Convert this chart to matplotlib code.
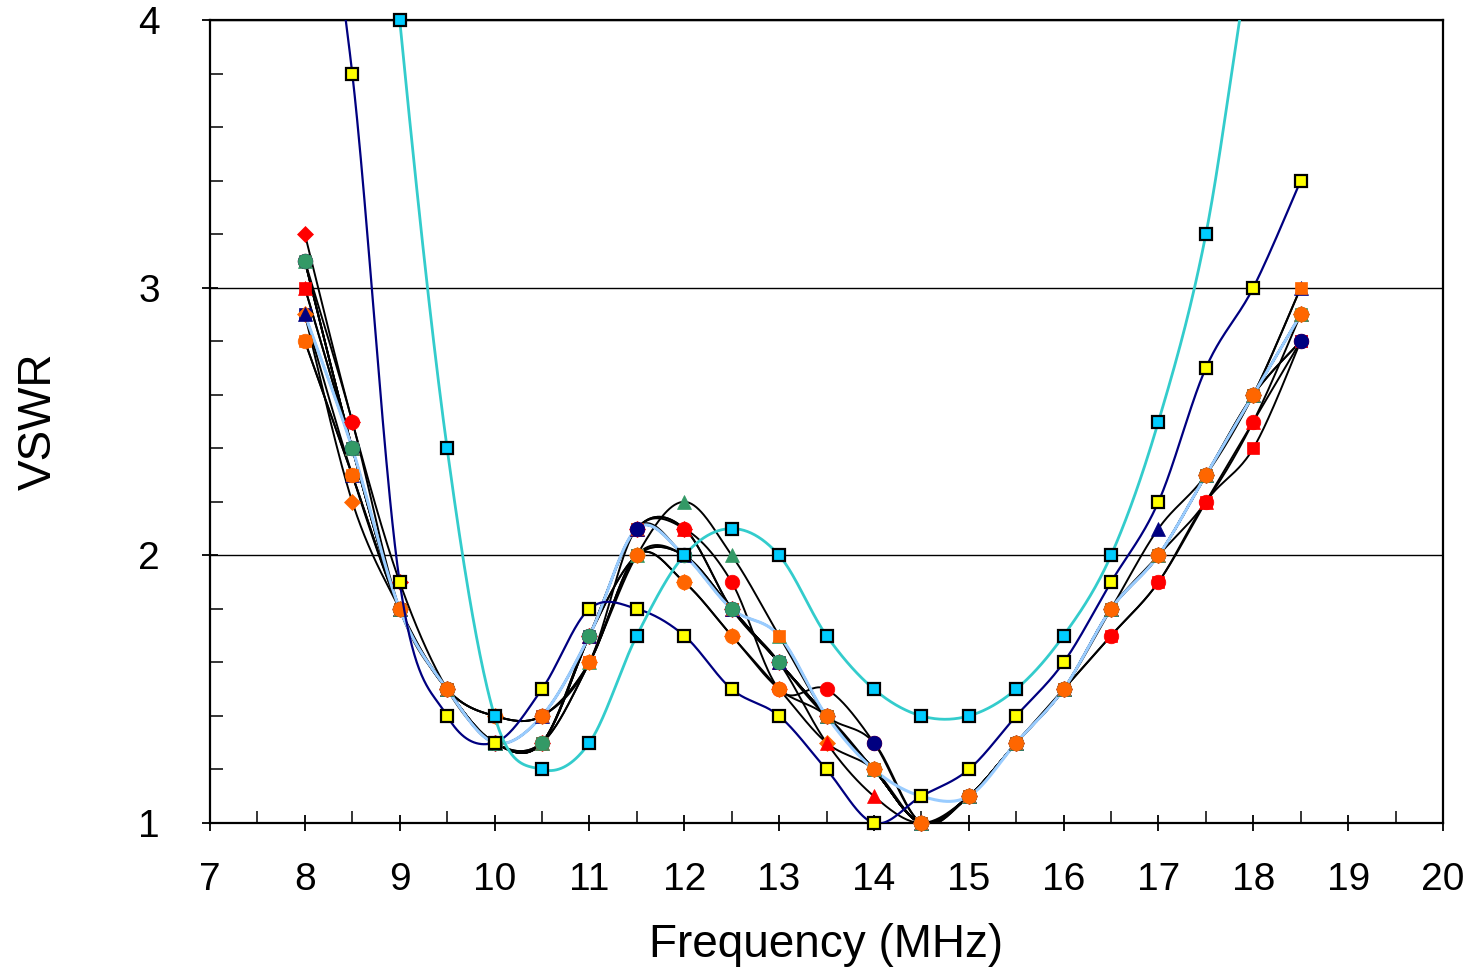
import numpy as np
import matplotlib
matplotlib.use('Agg')
import matplotlib.pyplot as plt
from matplotlib.ticker import MultipleLocator

plt.rcParams['font.family'] = ['Liberation Sans', 'DejaVu Sans']

## ::: Data ::: ##
freq = [8, 8.5, 9, 9.5, 10, 10.5, 11, 11.5, 12, 12.5, 13, 13.5, 14, 14.5, 15, 15.5, 16, 16.5, 17, 17.5, 18, 18.5]

# -> black-line series (marker, colour, values)
navy_sq  = [2.9, 2.4, 1.8, 1.5, 1.3, 1.4, 1.7, 2.1, 2.0, 1.8, 1.6, 1.4, 1.2, 1.0, 1.1, 1.3, 1.5, 1.8, 2.0, 2.3, 2.6, 2.8]
red_sq   = [3.0, 2.4, 1.8, 1.5, 1.3, 1.3, 1.6, 2.0, 2.0, 1.8, 1.6, 1.4, 1.2, 1.0, 1.1, 1.3, 1.5, 1.7, 1.9, 2.2, 2.4, 2.8]
green_sq = [3.1, 2.4, 1.8, 1.5, 1.3, 1.3, 1.7, 2.0, 2.0, 1.8, 1.6, 1.4, 1.2, 1.0, 1.1, 1.3, 1.5, 1.8, 2.0, 2.3, 2.6, 2.9]
red_dm   = [3.2, 2.5, 1.9, 1.5, 1.3, 1.3, 1.7, 2.1, 2.1, 1.8, 1.6, 1.4, 1.2, 1.0, 1.1, 1.3, 1.5, 1.8, 2.0, 2.3, 2.6, 2.9]
org_dm   = [2.9, 2.2, 1.8, 1.5, 1.4, 1.4, 1.6, 2.0, 1.9, 1.7, 1.5, 1.3, 1.2, 1.0, 1.1, 1.3, 1.5, 1.8, 2.0, 2.3, 2.6, 2.9]
red_tr   = [3.0, 2.4, 1.8, 1.5, 1.3, 1.3, 1.7, 2.1, 2.1, 1.8, 1.6, 1.3, 1.1, 1.0, 1.1, 1.3, 1.5, 1.8, 2.0, 2.2, 2.5, 2.9]
navy_tr  = [2.9, 2.3, 1.8, 1.5, 1.3, 1.4, 1.7, 2.1, 2.0, 1.8, 1.6, 1.4, 1.2, 1.0, 1.1, 1.3, 1.5, 1.8, 2.1, 2.3, 2.6, 3.0]
green_tr = [3.1, 2.4, 1.8, 1.5, 1.3, 1.3, 1.6, 2.0, 2.2, 2.0, 1.7, 1.4, 1.2, 1.0, 1.1, 1.3, 1.5, 1.8, 2.0, 2.3, 2.6, 2.9]
org_sq   = [2.8, 2.3, 1.8, 1.5, 1.4, 1.4, 1.6, 2.1, 2.0, 1.8, 1.7, 1.4, 1.2, 1.0, 1.1, 1.3, 1.5, 1.8, 2.0, 2.3, 2.6, 3.0]
red_ci   = [3.1, 2.5, 1.8, 1.5, 1.3, 1.3, 1.7, 2.1, 2.1, 1.9, 1.5, 1.5, 1.3, 1.0, 1.1, 1.3, 1.5, 1.7, 1.9, 2.2, 2.5, 2.8]
navy_ci  = [3.1, 2.4, 1.8, 1.5, 1.3, 1.4, 1.7, 2.1, 2.0, 1.8, 1.6, 1.4, 1.3, 1.0, 1.1, 1.3, 1.5, 1.8, 2.0, 2.3, 2.6, 2.8]
green_ci = [3.1, 2.4, 1.8, 1.5, 1.3, 1.3, 1.7, 2.0, 2.0, 1.8, 1.6, 1.4, 1.2, 1.0, 1.1, 1.3, 1.5, 1.8, 2.0, 2.3, 2.6, 2.9]
org_ci   = [2.8, 2.3, 1.8, 1.5, 1.4, 1.4, 1.6, 2.0, 1.9, 1.7, 1.5, 1.4, 1.2, 1.0, 1.1, 1.3, 1.5, 1.8, 2.0, 2.3, 2.6, 2.9]

# -> coloured-line series
light_blue = [2.9, 2.4, 1.8, 1.5, 1.3, 1.4, 1.7, 2.1, 2.0, 1.8, 1.7, 1.4, 1.2, 1.1, 1.1, 1.3, 1.5, 1.8, 2.0, 2.3, 2.6, 2.9]
yellow_sq  = [5.0, 3.8, 1.9, 1.4, 1.3, 1.5, 1.8, 1.8, 1.7, 1.5, 1.4, 1.2, 1.0, 1.1, 1.2, 1.4, 1.6, 1.9, 2.2, 2.7, 3.0, 3.4]
cyan_sq    = [9.0, 6.0, 4.0, 2.4, 1.4, 1.2, 1.3, 1.7, 2.0, 2.1, 2.0, 1.7, 1.5, 1.4, 1.4, 1.5, 1.7, 2.0, 2.5, 3.2, 4.3, 5.0]

black_series = [
    (navy_sq, 's', '#000080'),
    (red_sq, 's', '#FF0000'),
    (green_sq, 's', '#339966'),
    (red_dm, 'D', '#FF0000'),
    (org_dm, 'D', '#FF6600'),
    (red_tr, '^', '#FF0000'),
    (navy_tr, '^', '#000080'),
    (green_tr, '^', '#339966'),
    (org_sq, 's', '#FF6600'),
    (red_ci, 'o', '#FF0000'),
    (navy_ci, 'o', '#000080'),
    (green_ci, 'o', '#339966'),
    (org_ci, 'o', '#FF6600'),
]
marker_size = {'s': 9, 'D': 8, '^': 10, 'o': 10.5}


## ::: Excel-like smoothing (Catmull-Rom via Bezier) ::: ##
def smooth(x, y, n=40):
    x = np.asarray(x, float)
    y = np.asarray(y, float)
    px = np.concatenate([[x[0]], x, [x[-1]]])
    py = np.concatenate([[y[0]], y, [y[-1]]])
    t = np.linspace(0, 1, n)
    xs, ys = [], []
    for i in range(len(x) - 1):
        x0, x1, x2, x3 = px[i:i + 4]
        y0, y1, y2, y3 = py[i:i + 4]
        cx1, cy1 = x1 + (x2 - x0) / 6, y1 + (y2 - y0) / 6
        cx2, cy2 = x2 - (x3 - x1) / 6, y2 - (y3 - y1) / 6
        b0, b1, b2, b3 = (1 - t) ** 3, 3 * t * (1 - t) ** 2, 3 * t ** 2 * (1 - t), t ** 3
        xs.append(b0 * x1 + b1 * cx1 + b2 * cx2 + b3 * x2)
        ys.append(b0 * y1 + b1 * cy1 + b2 * cy2 + b3 * y2)
    return np.concatenate(xs), np.concatenate(ys)


def markers(ax, x, y, **kw):
    x = np.asarray(x, float)
    y = np.asarray(y, float)
    keep = (y >= 1) & (y <= 4.001)
    ax.plot(x[keep], y[keep], linestyle='none', clip_on=False, **kw)


## ::: Figure ::: ##
fig = plt.figure(figsize=(14.73, 9.71), dpi=100)
ax = fig.add_axes([210 / 1473, 1 - 823 / 971, (1443 - 210) / 1473, (823 - 20) / 971])

for vals, mk, col in black_series:
    sx, sy = smooth(freq, vals)
    ax.plot(sx, sy, color='black', lw=1.4, zorder=3)
    markers(ax, freq, vals, marker=mk, ms=marker_size[mk], mfc=col, mec=col, mew=0.5, zorder=4)

sx, sy = smooth(freq, light_blue)
ax.plot(sx, sy, color='#99CCFF', lw=2.2, zorder=3)

sx, sy = smooth(freq, yellow_sq)
ax.plot(sx, sy, color='#000080', lw=1.6, zorder=5)
markers(ax, freq, yellow_sq, marker='s', ms=8.5, mfc='#FFFF00', mec='black', mew=1.6, zorder=6)

sx, sy = smooth(freq, cyan_sq)
ax.plot(sx, sy, color='#33CCCC', lw=2.0, zorder=5)
markers(ax, freq, cyan_sq, marker='s', ms=8.5, mfc='#00CCFF', mec='black', mew=1.6, zorder=6)

## ::: Axes styling ::: ##
ax.set_xlim(7, 20)
ax.set_ylim(1, 4)
ax.xaxis.set_major_locator(MultipleLocator(1))
ax.xaxis.set_minor_locator(MultipleLocator(0.5))
ax.yaxis.set_major_locator(MultipleLocator(1))
ax.yaxis.set_minor_locator(MultipleLocator(0.2))
ax.tick_params(which='major', direction='inout', length=12, width=1.3, labelsize=28, color='black')
ax.tick_params(which='minor', direction='in', length=9, width=1.1, color='black')
ax.tick_params(axis='x', which='major', pad=22)
ax.tick_params(axis='y', which='major', pad=30)
ax.grid(axis='y', which='major', color='black', lw=1.0, zorder=1)
for s in ax.spines.values():
    s.set_linewidth(1.6)
    s.set_color('black')
ax.set_xlabel('Frequency (MHz)', fontsize=33, labelpad=18)
ax.set_ylabel('VSWR', fontsize=33, labelpad=56)

fig.savefig('out.png', dpi=100)
